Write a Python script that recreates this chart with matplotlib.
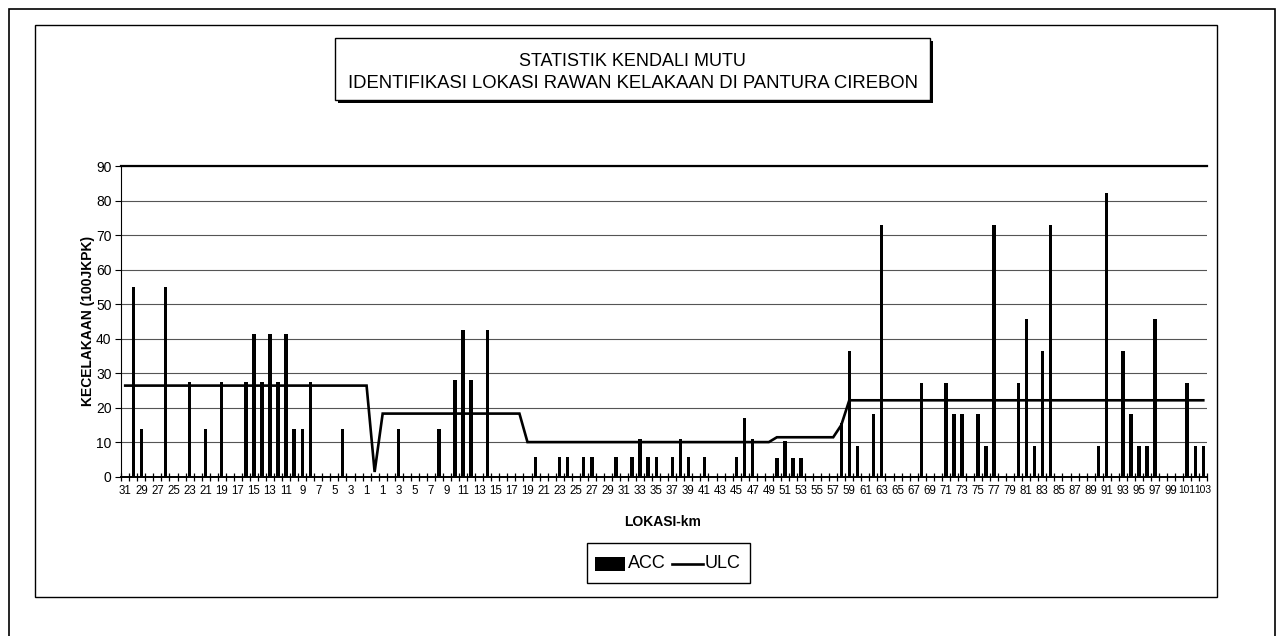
import matplotlib
matplotlib.use('Agg')
import matplotlib.pyplot as plt
from matplotlib.patches import Rectangle
from matplotlib.lines import Line2D

W, H, DPI = 1283, 636, 100
plt.rcParams['font.family'] = ['Liberation Sans', 'DejaVu Sans']

# ---- data -------------------------------------------------------------
km_west = list(range(31, -1, -1))      # 31 ... 0
km_east = list(range(1, 104))          # 1 ... 103
labels = [str(k) for k in km_west + km_east]

acc = [0, 55, 14, 0, 0, 55, 0, 0, 27.6, 0,
       14, 0, 27.6, 0, 0, 27.6, 41.4, 27.6, 41.4, 27.6,
       41.4, 14, 14, 27.6, 0, 0, 0, 14, 0, 0,
       0, 0, 0, 0, 14, 0, 0, 0, 0, 14,
       0, 28.2, 42.4, 28.2, 0, 42.4, 0, 0, 0, 0,
       0, 5.8, 0, 0, 5.8, 5.8, 0, 5.8, 5.8, 0,
       0, 5.8, 0, 5.8, 11, 5.8, 5.8, 0, 5.8, 11,
       5.8, 0, 5.8, 0, 0, 0, 5.8, 17.2, 11, 0,
       0, 5.5, 10.3, 5.5, 5.5, 0, 0, 0, 0, 15.6,
       36.6, 9.1, 0, 18.1, 73, 0, 0, 0, 0, 27.3,
       0, 0, 27.3, 18.1, 18.1, 0, 18.1, 9.1, 73, 0,
       0, 27.3, 45.6, 9.1, 36.6, 73, 0, 0, 0, 0,
       0, 9.1, 82.3, 0, 36.6, 18.1, 9.1, 9.1, 45.6, 0,
       0, 0, 27.3, 9.1, 9.1]

ulc = [26.45, 26.45, 26.45, 26.45, 26.45, 26.45, 26.45, 26.45, 26.45, 26.45,
       26.45, 26.45, 26.45, 26.45, 26.45, 26.45, 26.45, 26.45, 26.45, 26.45,
       26.45, 26.45, 26.45, 26.45, 26.45, 26.45, 26.45, 26.45, 26.45, 26.45,
       26.45, 1.45, 18.35, 18.35, 18.35, 18.35, 18.35, 18.35, 18.35, 18.35,
       18.35, 18.35, 18.35, 18.35, 18.35, 18.35, 18.35, 18.35, 18.35, 18.35,
       10.1, 10.1, 10.1, 10.1, 10.1, 10.1, 10.1, 10.1, 10.1, 10.1,
       10.1, 10.1, 10.1, 10.1, 10.1, 10.1, 10.1, 10.1, 10.1, 10.1,
       10.1, 10.1, 10.1, 10.1, 10.1, 10.1, 10.1, 10.1, 10.1, 10.1,
       10.1, 11.5, 11.5, 11.5, 11.5, 11.5, 11.5, 11.5, 11.5, 15.0,
       22.2, 22.2, 22.2, 22.2, 22.2, 22.2, 22.2, 22.2, 22.2, 22.2,
       22.2, 22.2, 22.2, 22.2, 22.2, 22.2, 22.2, 22.2, 22.2, 22.2,
       22.2, 22.2, 22.2, 22.2, 22.2, 22.2, 22.2, 22.2, 22.2, 22.2,
       22.2, 22.2, 22.2, 22.2, 22.2, 22.2, 22.2, 22.2, 22.2, 22.2,
       22.2, 22.2, 22.2, 22.2, 22.2]

y_ticks = [0, 10, 20, 30, 40, 50, 60, 70, 80, 90]

title1 = 'STATISTIK KENDALI MUTU'
title2 = 'IDENTIFIKASI LOKASI RAWAN KELAKAAN DI PANTURA CIREBON'
y_title = 'KECELAKAAN (100JKPK)'
x_title = 'LOKASI-km'

# ---- helpers ----------------------------------------------------------
def fx(px):
    return px / W

def fy(py):
    return 1 - py / H

fig = plt.figure(figsize=(W / DPI, H / DPI), dpi=DPI)
fig.patch.set_facecolor('white')

# page frame and chart frame
fig.add_artist(Rectangle((fx(9), fy(640)), fx(1275) - fx(9), fy(9) - fy(640),
                         transform=fig.transFigure, fill=False, ec='black', lw=1.2))
fig.add_artist(Rectangle((fx(35), fy(597)), fx(1217) - fx(35), fy(25) - fy(597),
                         transform=fig.transFigure, fill=False, ec='black', lw=1.0))

# plot area
L, R, T, B = 121.2, 1207.3, 166, 477
ax = fig.add_axes([fx(L), fy(B), fx(R) - fx(L), fy(T) - fy(B)])
x = list(range(len(labels)))
ax.bar(x, acc, width=0.42, color='black', linewidth=0, zorder=3)
ax.plot(x, ulc, color='black', lw=1.9, zorder=4, solid_joinstyle='miter')

ax.set_xlim(-0.5, len(labels) - 0.5)
ax.set_ylim(0, 90)
ax.set_yticks(y_ticks)
ax.set_yticklabels([str(v) for v in y_ticks], fontsize=10)
ax.yaxis.grid(True, color='#555555', lw=0.8, zorder=1)
ax.set_axisbelow(True)

ax.set_xticks(x[::2])
ax.set_xticklabels(labels[::2], fontsize=8.3)
for t in ax.get_xticklabels():
    if len(t.get_text()) > 2:
        t.set_fontsize(7.4)
ax.set_xticks([i - 0.5 for i in range(len(labels) + 1)], minor=True)
ax.tick_params(axis='x', which='major', length=0, pad=6)
ax.tick_params(axis='x', which='minor', length=6, direction='inout', width=0.9)
ax.tick_params(axis='y', which='major', length=4, direction='out', width=0.8, pad=3)

ax.spines['right'].set_visible(False)
ax.spines['top'].set_linewidth(1.6)
ax.spines['left'].set_linewidth(0.8)
ax.spines['bottom'].set_linewidth(1.4)

# axis titles
fig.text(fx(88), fy(321), y_title, rotation=90, fontsize=10, fontweight='bold',
         ha='center', va='center')
fig.text(fx(663), fy(522), x_title, fontsize=10, fontweight='bold',
         ha='center', va='center')

# title box with shadow
tb_l, tb_r, tb_t, tb_b = 335, 930, 38, 100
fig.add_artist(Rectangle((fx(tb_l + 3), fy(tb_b + 3)), fx(tb_r) - fx(tb_l), fy(tb_t) - fy(tb_b),
                         transform=fig.transFigure, fc='black', ec='black', lw=0))
fig.add_artist(Rectangle((fx(tb_l), fy(tb_b)), fx(tb_r) - fx(tb_l), fy(tb_t) - fy(tb_b),
                         transform=fig.transFigure, fc='white', ec='black', lw=1.0))
cx = (tb_l + tb_r) / 2
fig.text(fx(cx), fy(62), title1, fontsize=13, ha='center', va='center')
fig.text(fx(cx), fy(84), title2, fontsize=13.3, ha='center', va='center')

# legend
lg_l, lg_r, lg_t, lg_b = 587, 750, 543, 583
fig.add_artist(Rectangle((fx(lg_l), fy(lg_b)), fx(lg_r) - fx(lg_l), fy(lg_t) - fy(lg_b),
                         transform=fig.transFigure, fc='white', ec='black', lw=1.0))
fig.add_artist(Rectangle((fx(595), fy(571)), fx(625) - fx(595), fy(557) - fy(571),
                         transform=fig.transFigure, fc='black', ec='black', lw=0))
fig.text(fx(628), fy(564), 'ACC', fontsize=13, ha='left', va='center')
fig.add_artist(Line2D([fx(672), fx(703)], [fy(564), fy(564)], transform=fig.transFigure,
                      color='black', lw=1.9))
fig.text(fx(705), fy(564), 'ULC', fontsize=13, ha='left', va='center')

fig.savefig('out.png', dpi=DPI, facecolor='white')
